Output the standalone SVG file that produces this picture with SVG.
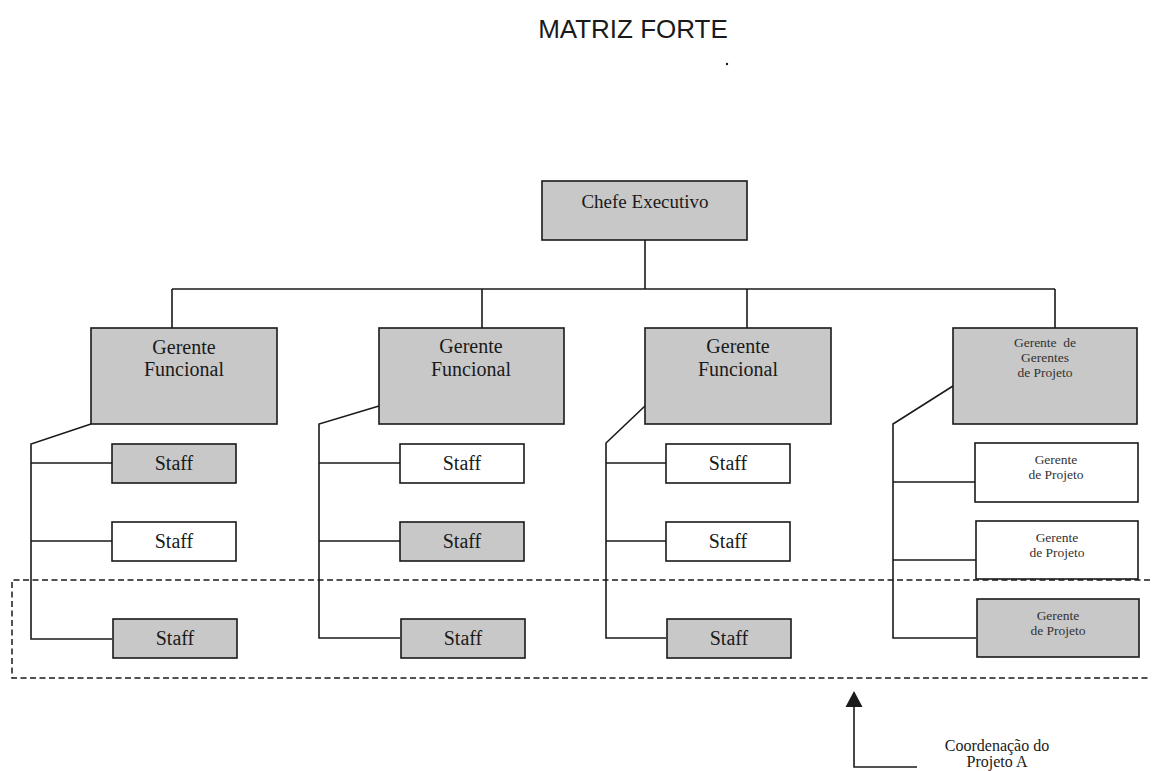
<svg xmlns="http://www.w3.org/2000/svg" width="1152" height="771" viewBox="0 0 1152 771">
  <style>
    .box { stroke: #1a1a1a; stroke-width: 1.6; }
    .shaded { fill: #c8c8c8; }
    .plain { fill: #ffffff; }
    .lbl { font-family: "Liberation Serif", "Times New Roman", serif; fill: #1a1a1a; text-anchor: middle; }
    .big { font-size: 20px; }
    .small { font-size: 13.5px; fill: #333333; }
    .wire { fill: none; stroke: #1a1a1a; stroke-width: 1.6; }
    .dash { fill: none; stroke: #1a1a1a; stroke-width: 1.5; stroke-dasharray: 6 3.5; }
  </style>
  <rect width="1152" height="771" fill="#ffffff"/>

  <!-- title -->
  <text x="633" y="38" font-family="Liberation Sans, Arial, sans-serif" font-size="26" text-anchor="middle" fill="#1a1a1a">MATRIZ FORTE</text>
  <circle cx="727" cy="64" r="1.2" fill="#1a1a1a"/>

  <!-- connectors -->
  <g id="connectors">
    <!-- top level -->
    <path class="wire" d="M645,240 V289"/>
    <path class="wire" d="M172,289 H1055"/>
    <path class="wire" d="M172,289 V328 M482,289 V328 M747,289 V328 M1055,289 V328"/>
    <!-- column 1 -->
    <path class="wire" d="M91,424 L31,444 V639 H112 M31,463 H112 M31,541 H112"/>
    <!-- column 2 -->
    <path class="wire" d="M379,406 L319,424 V638 H400 M319,463 H400 M319,541 H400"/>
    <!-- column 3 -->
    <path class="wire" d="M645,406 L606,443 V638 H666 M606,463 H666 M606,541 H666"/>
    <!-- column 4 -->
    <path class="wire" d="M953,386 L893,424 V638 H976 M893,482 H975 M893,560 H976"/>
    <!-- project A coordination band -->
    <path class="dash" d="M1150,580 H12 V678 H1150"/>
    <!-- pointer -->
    <path class="wire" d="M854,707 V767 H917"/>
    <path d="M854,691 L862.5,707 L845.5,707 Z" fill="#1a1a1a"/>
  </g>

  <g id="chefe">
    <rect class="box shaded" x="542" y="181" width="205" height="59"/>
    <text class="lbl" x="645" y="208" font-size="19">Chefe Executivo</text>
  </g>

  <g id="gerente-funcional-1">
    <rect class="box shaded" x="91" y="328" width="186" height="96"/>
    <text class="lbl big" x="184" y="354">Gerente</text>
    <text class="lbl big" x="184" y="376">Funcional</text>
  </g>
  <g id="gerente-funcional-2">
    <rect class="box shaded" x="379" y="328" width="185" height="96"/>
    <text class="lbl big" x="471" y="353">Gerente</text>
    <text class="lbl big" x="471" y="376">Funcional</text>
  </g>
  <g id="gerente-funcional-3">
    <rect class="box shaded" x="645" y="328" width="186" height="96"/>
    <text class="lbl big" x="738" y="353">Gerente</text>
    <text class="lbl big" x="738" y="376">Funcional</text>
  </g>
  <g id="gerente-gerentes">
    <rect class="box shaded" x="953" y="328" width="184" height="96"/>
    <text class="lbl small" x="1045" y="347" xml:space="preserve">Gerente  de</text>
    <text class="lbl small" x="1045" y="362">Gerentes</text>
    <text class="lbl small" x="1045" y="377">de Projeto</text>
  </g>

  <!-- column 1 staff -->
  <g id="staff-1-1">
    <rect class="box shaded" x="112" y="444" width="124" height="39"/>
    <text class="lbl big" x="174" y="470">Staff</text>
  </g>
  <g id="staff-1-2">
    <rect class="box plain" x="112" y="522" width="124" height="39"/>
    <text class="lbl big" x="174" y="548">Staff</text>
  </g>
  <g id="staff-1-3">
    <rect class="box shaded" x="113" y="619" width="124" height="39"/>
    <text class="lbl big" x="175" y="645">Staff</text>
  </g>

  <!-- column 2 staff -->
  <g id="staff-2-1">
    <rect class="box plain" x="400" y="444" width="124" height="39"/>
    <text class="lbl big" x="462" y="470">Staff</text>
  </g>
  <g id="staff-2-2">
    <rect class="box shaded" x="400" y="522" width="124" height="39"/>
    <text class="lbl big" x="462" y="548">Staff</text>
  </g>
  <g id="staff-2-3">
    <rect class="box shaded" x="401" y="619" width="124" height="39"/>
    <text class="lbl big" x="463" y="645">Staff</text>
  </g>

  <!-- column 3 staff -->
  <g id="staff-3-1">
    <rect class="box plain" x="666" y="444" width="124" height="39"/>
    <text class="lbl big" x="728" y="470">Staff</text>
  </g>
  <g id="staff-3-2">
    <rect class="box plain" x="666" y="522" width="124" height="39"/>
    <text class="lbl big" x="728" y="548">Staff</text>
  </g>
  <g id="staff-3-3">
    <rect class="box shaded" x="667" y="619" width="124" height="39"/>
    <text class="lbl big" x="729" y="645">Staff</text>
  </g>

  <!-- project managers -->
  <g id="gerente-projeto-1">
    <rect class="box plain" x="975" y="443" width="163" height="59"/>
    <text class="lbl small" x="1056" y="464">Gerente</text>
    <text class="lbl small" x="1056" y="479">de Projeto</text>
  </g>
  <g id="gerente-projeto-2">
    <rect class="box plain" x="976" y="521" width="162" height="58"/>
    <text class="lbl small" x="1057" y="542">Gerente</text>
    <text class="lbl small" x="1057" y="557">de Projeto</text>
  </g>
  <g id="gerente-projeto-3">
    <rect class="box shaded" x="977" y="599" width="162" height="58"/>
    <text class="lbl small" x="1058" y="620">Gerente</text>
    <text class="lbl small" x="1058" y="635">de Projeto</text>
  </g>

  <g id="nota-projeto-a">
    <text class="lbl" x="997" y="751" font-size="16">Coordenação do</text>
    <text class="lbl" x="997" y="767" font-size="16">Projeto A</text>
  </g>
</svg>
